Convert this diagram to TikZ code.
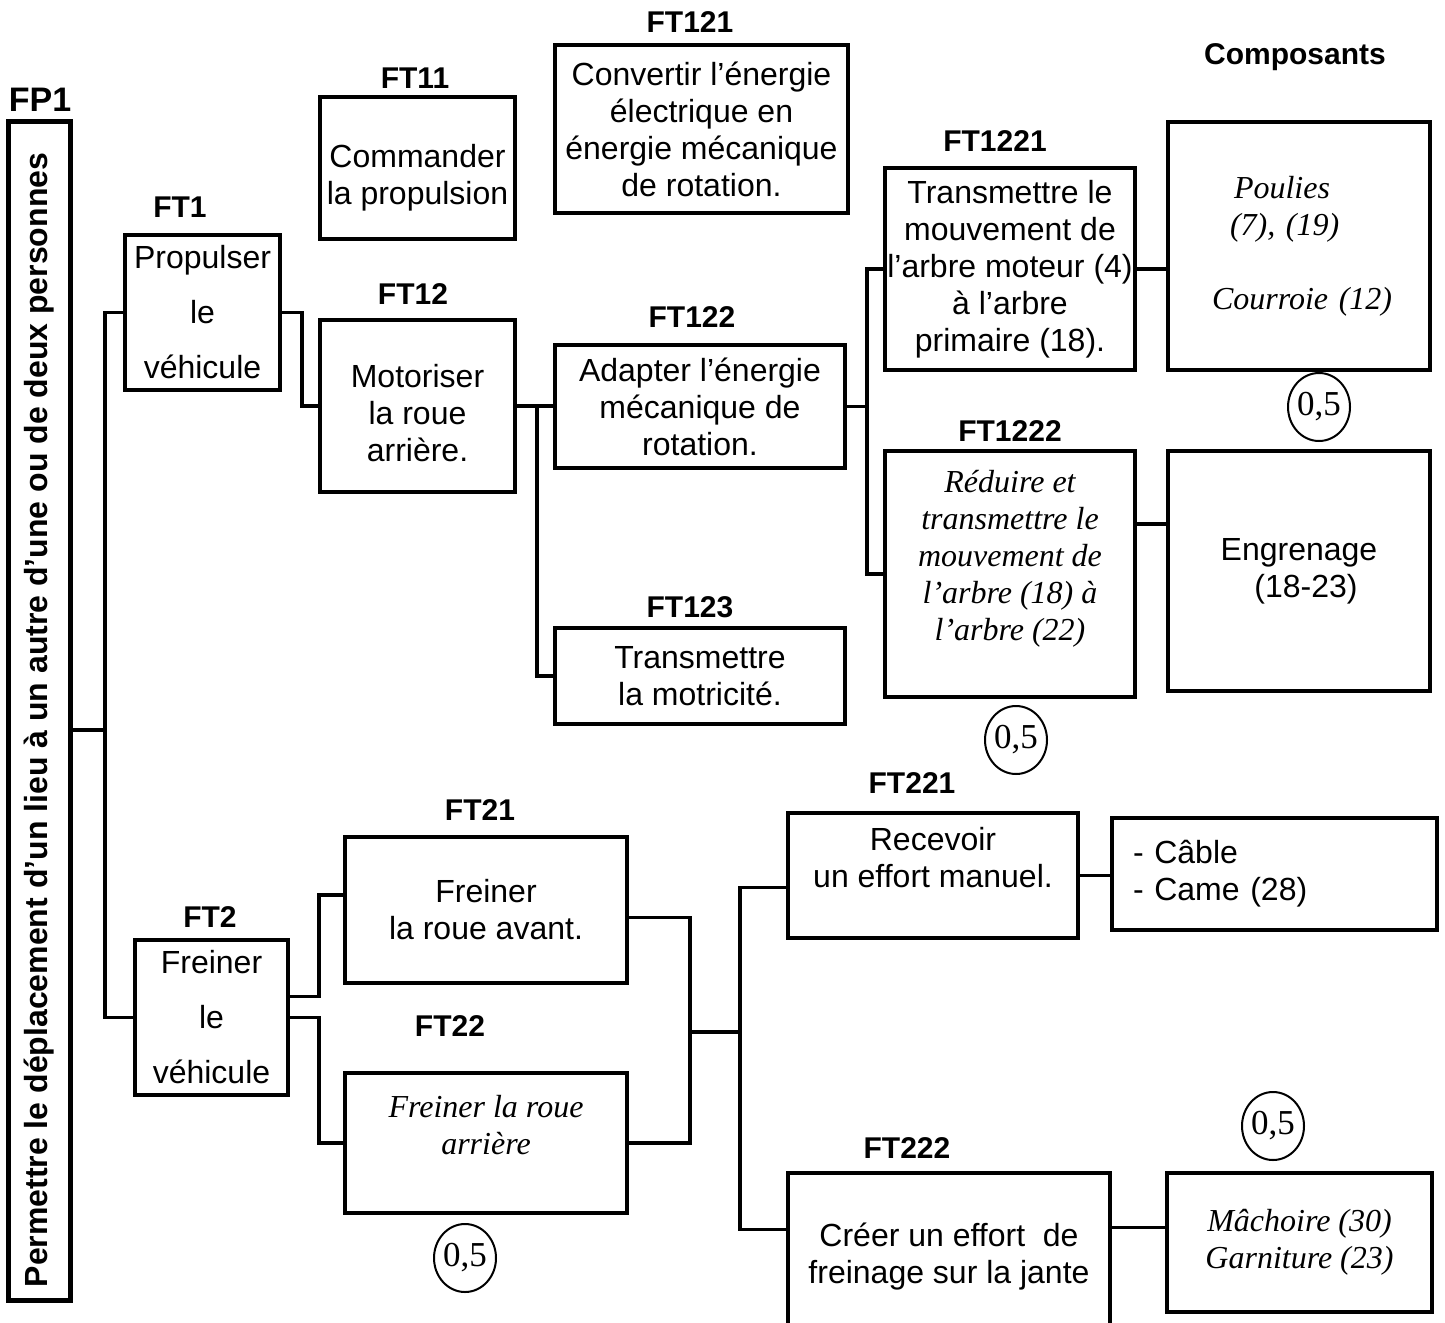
\documentclass[tikz,border=0pt]{standalone}
\usepackage{fontspec}
\setmainfont{Liberation Sans}
\newfontfamily\timesfont{Liberation Serif}
\usepackage{graphicx}
\usepackage{tikz}
\usetikzlibrary{positioning, calc, shapes.geometric}

\begin{document}
\begin{tikzpicture}[
  x=0.5pt, y=-0.5pt,
  fbox/.style={rectangle, draw, line width=2pt, align=center, inner sep=0pt,
               font=\fontsize{16}{18.5}\selectfont},
  tallbox/.style={fbox, font=\fontsize{16}{27.5}\selectfont},
  itbox/.style={fbox, font=\fontsize{16}{18.5}\selectfont\timesfont\itshape},
  tag/.style={font=\fontsize{15}{18}\selectfont\bfseries},
  score/.style={ellipse, draw, line width=1pt, minimum width=31pt, minimum height=34pt, inner sep=0pt,
                font=\fontsize{17.5}{20}\selectfont\timesfont},
  link/.style={line width=1.6pt},
]
\useasboundingbox (0,0) rectangle (1445,1322);

% Fonction principale
\node[tag, font=\fontsize{17}{20}\selectfont\bfseries] (fp1lab) at (40,100) {FP1};
\node[fbox, line width=2.5pt, minimum width=31pt, minimum height=589pt,
      font=\fontsize{16}{18}\selectfont\bfseries] (fp1) at (39,711)
  {\rotatebox{90}{Permettre le déplacement d’un lieu à un autre d’une ou de deux personnes\hspace*{9pt}}};

% FT1 : propulsion
\node[tag] (ft1lab) at (180,207) {FT1};
\node[tallbox, minimum width=77.5pt, minimum height=77.5pt] (ft1) at (202.5,312.5) {Propulser\\le\\véhicule};

\node[tag] (ft11lab) at (415,78) {FT11};
\node[fbox, minimum width=97.5pt, minimum height=71pt] (ft11) at (417.5,168) {\rule{0pt}{21.5pt}Commander\\la propulsion};

\node[tag] (ft12lab) at (413,294) {FT12};
\node[fbox, minimum width=97.5pt, minimum height=86pt] (ft12) at (417.5,406) {\mbox{}\\Motoriser\\la roue\\arrière.};

\node[tag] (ft121lab) at (690,22) {FT121};
\node[fbox, minimum width=146.5pt, minimum height=84pt] (ft121) at (701.5,129) {Convertir l’énergie\\électrique en\\énergie mécanique\\de rotation.};

\node[tag] (ft122lab) at (692,317) {FT122};
\node[fbox, minimum width=145pt, minimum height=61.5pt] (ft122) at (700,406.5) {Adapter l’énergie\\mécanique de\\rotation.};

\node[tag] (ft123lab) at (690,607) {FT123};
\node[fbox, minimum width=145pt, minimum height=48pt] (ft123) at (700,676) {Transmettre\\la motricité.};

\node[tag] (ft1221lab) at (995,141) {FT1221};
\node[fbox, minimum width=125pt, minimum height=101pt] (ft1221) at (1010,269) {Transmettre le\\mouvement de\\l’arbre moteur (4)\\à l’arbre\\primaire (18).};

\node[tag] (ft1222lab) at (1010,431) {FT1222};
\node[itbox, minimum width=125pt, minimum height=123pt] (ft1222) at (1010,574) {Réduire et\\transmettre le\\mouvement de\\l’arbre (18) à\\l’arbre (22)\\\mbox{}};

% Composants
\node[tag] (complab) at (1295,57) {Composants};
\node[itbox, align=left, text width=96pt, inner xsep=17.5pt, minimum height=124pt] (comp1) at (1299,246)
  {\hspace*{15.5pt}Poulies\\\hspace*{13.5pt}(7), (19)\\\mbox{}\\\hspace*{4.5pt}Courroie (12)};
\node[fbox, minimum width=131pt, minimum height=120pt] (comp2) at (1299,571) {Engrenage\\\hspace*{7pt}(18-23)};

% FT2 : freinage
\node[tag] (ft2lab) at (210,917) {FT2};
\node[tallbox, minimum width=76.5pt, minimum height=77.5pt] (ft2) at (211.5,1017.5) {Freiner\\le\\véhicule};

\node[tag] (ft21lab) at (480,810) {FT21};
\node[fbox, minimum width=141pt, minimum height=73pt] (ft21) at (486,910) {Freiner\\la roue avant.};

\node[tag] (ft22lab) at (450,1026) {FT22};
\node[itbox, minimum width=141pt, minimum height=70pt] (ft22) at (486,1143) {Freiner la roue\\arrière\\\mbox{}};

\node[tag] (ft221lab) at (912,783) {FT221};
\node[fbox, minimum width=145pt, minimum height=62.5pt] (ft221) at (933,875.5) {Recevoir\\un effort manuel.\\\mbox{}};
\node[fbox, align=left, text width=141.5pt, inner xsep=10.5pt, minimum height=56pt] (comp3) at (1274.5,874) {- Câble\\- Came (28)};

\node[tag] (ft222lab) at (907,1148) {FT222};
\node[fbox, minimum width=161pt, minimum height=83.5pt] (ft222) at (949,1256.5) {Créer un effort\ \ de\\freinage sur la jante};
\node[itbox, minimum width=132.5pt, minimum height=69.5pt] (comp4) at (1299.5,1242.5) {Mâchoire (30)\\Garniture (23)};

% Notes
\node[score] (sc1) at (1319,407) {0,5};
\node[score] (sc2) at (1016,740) {0,5};
\node[score] (sc3) at (1273,1126) {0,5};
\node[score] (sc4) at (465,1258) {0,5};

% Connecteurs
\coordinate (j0) at (105,730);
\draw[link] (j0 -| fp1.east) -- (j0);
\draw[link] (ft1.west) -| (j0) |- (ft2.west);

\draw[link] (ft1.east) -- ++(20,0) |- (ft12.west);

\draw[link] (ft12.east) -- (ft12.east -| ft122.west);
\coordinate (j2) at (537,406);
\draw[link] (j2) |- (ft123.west);

\draw[link] (ft122.east) -- ++(20,0) coordinate (j3);
\draw[link] (ft1221.west) -| (j3) |- (ft1222.west);

\draw[link] (ft1221.east) -- (ft1221.east -| comp1.west);
\coordinate (c4) at ($(ft1222.north east)!0.3!(ft1222.south east)$);
\draw[link] (c4) -- (c4 -| comp2.west);

\coordinate (c5) at ($(ft2.north east)!0.37!(ft2.south east)$);
\draw[link] (c5) -- ++(29,0) |- ($(ft21.north west)!0.4!(ft21.south west)$);
\draw[link] (ft2.east) -- ++(29,0) |- (ft22.west);

\coordinate (j5) at (690,1032);
\draw[link] ($(ft21.north east)!0.55!(ft21.south east)$) -| (j5);
\draw[link] (ft22.east) -| (j5);
\draw[link] (j5) -- ++(50,0) coordinate (j6);
\draw[link] ($(ft221.north west)!0.59!(ft221.south west)$) -| (j6) |- ($(ft222.north west)!0.34!(ft222.south west)$);

\draw[link] (ft221.east) -- (ft221.east -| comp3.west);
\coordinate (c6) at ($(ft222.north east)!0.33!(ft222.south east)$);
\draw[link] (c6) -- (c6 -| comp4.west);

\end{tikzpicture}
\end{document}
